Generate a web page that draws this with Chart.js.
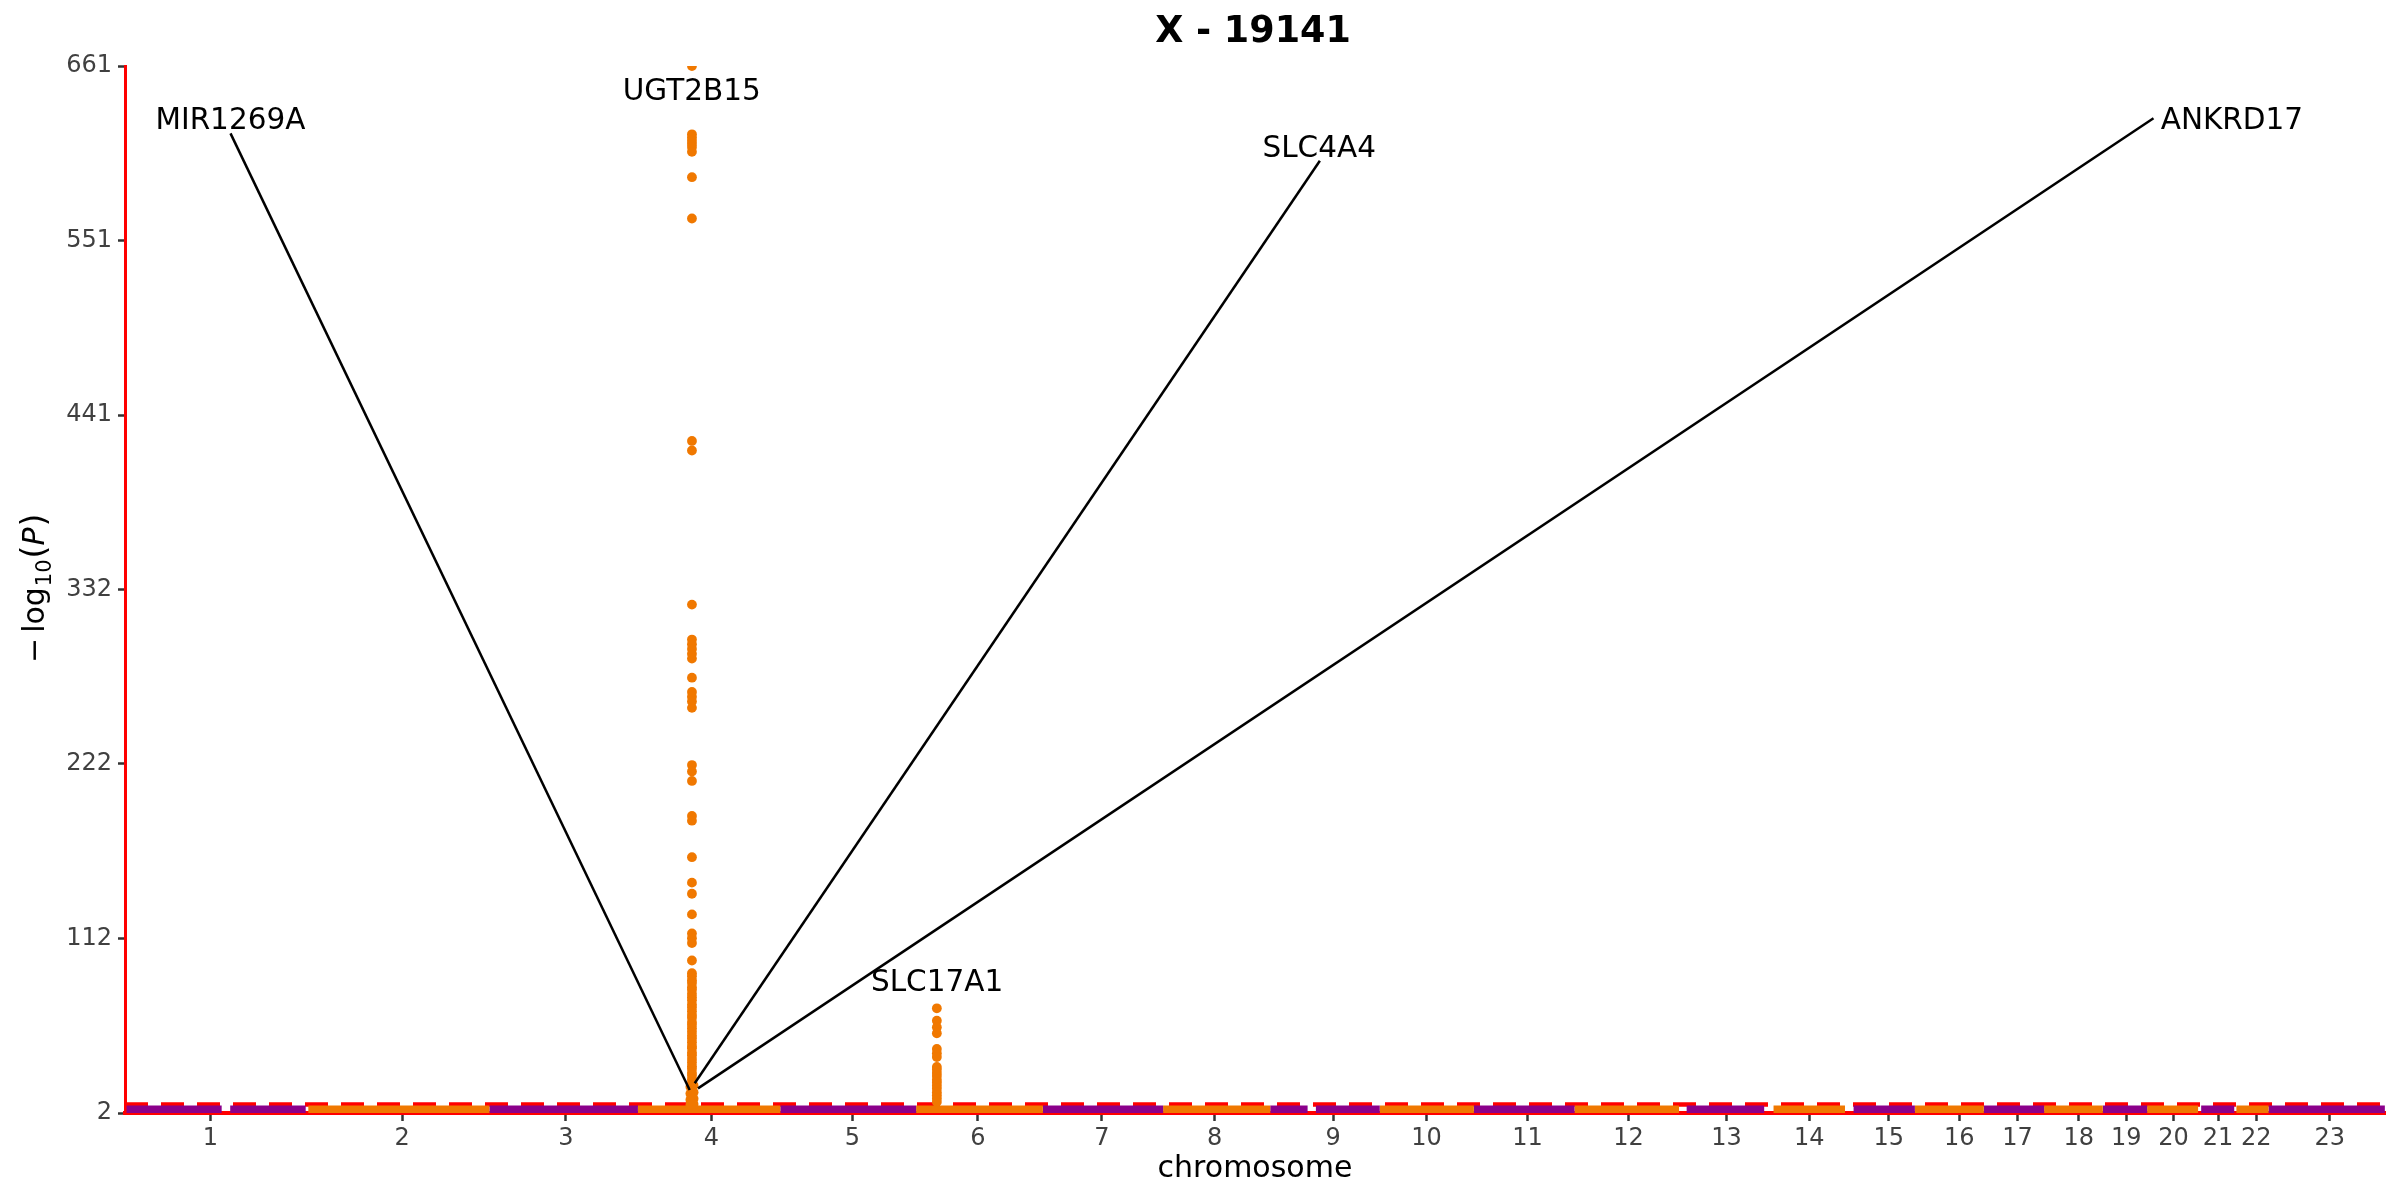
<!DOCTYPE html>
<html><head><meta charset="utf-8">
<script src="https://cdn.jsdelivr.net/npm/chart.js@4.4.0/dist/chart.umd.min.js"></script>
<style>html,body{margin:0;padding:0;background:#fff;}#wrap{width:2400px;height:1200px;}</style>
</head><body><div id="wrap"><canvas id="c" width="2400" height="1200"></canvas></div>
<script>
// ---------------- data ----------------
const chartTitle = 'X - 19141';
const xAxisTitle = 'chromosome';
const chromLabels = ['1','2','3','4','5','6','7','8','9','10','11','12','13','14','15','16','17','18','19','20','21','22','23'];
// chromosome tick centres (cumulative Mb)
const chromTickPos = [124.6, 381.0, 599.9, 794.3, 982.6, 1150.4, 1316.1, 1466.9, 1625.1, 1749.9, 1885.0, 2020.0, 2151.0, 2261.5, 2367.9, 2462.0, 2539.8, 2621.6, 2685.1, 2748.5, 2807.9, 2859.0, 2957.2];
const xRange = [10.6, 3031];
const yRange = [2, 661];
const yTickPos = [2, 111.83, 221.67, 331.5, 441.33, 551.17, 661];
const yTickLabels = ['2','112','222','332','441','551','661'];
// background SNP bands (cumulative Mb) per chromosome segment
const segStart = [12.7, 151.2, 255.6, 497.6, 696.1, 886.4, 1067.9, 1237.3, 1398.0, 1541.2, 1602.2, 1687.5, 1813.3, 1947.8, 2097.7, 2213.8, 2320.8, 2402.7, 2494.8, 2575.4, 2653.8, 2713.1, 2785.3, 2832.4, 2875.3];
const segEnd   = [139.8, 252.1, 497.6, 696.1, 886.4, 1067.9, 1237.3, 1398.0, 1541.2, 1591.1, 1687.5, 1813.3, 1947.8, 2087.5, 2201.3, 2309.3, 2402.7, 2494.8, 2575.4, 2653.8, 2713.1, 2781.2, 2829.5, 2875.3, 3030.8];
const segChrom = [1, 1, 2, 3, 4, 5, 6, 7, 8, 9, 9, 10, 11, 12, 13, 14, 15, 16, 17, 18, 19, 20, 21, 22, 23];
const bandLevel = 4.0;
const threshold = 7.3;
// chromosome 4 peak (UGT2B15 locus)
const peak4Pos = 768.3;
const peak4Values = [661, 618, 616, 614, 612, 610, 607, 591, 565, 425, 419, 322, 300, 297, 294, 291, 288, 276, 267, 264, 261, 257, 221, 217, 211, 189, 186, 163, 147, 140, 127, 115, 112, 109, 98, 90,
  88.1, 85.6, 83.9, 81.2, 79.5, 77.0, 74.8, 72.9, 70.3, 68.4, 66.1, 63.7, 61.9, 59.2, 57.6, 55.3, 53.1, 50.8, 48.9, 46.5, 44.2, 42.7, 40.1, 38.3, 36.0, 33.8, 31.5, 29.9, 27.4, 25.6, 23.2, 21.1, 19.4, 17.0, 15.3, 13.1, 11.2, 9.5, 8.0];
const peak4SidePos = [766.2, 770.5];
const peak4SideA = [18.5, 14.2, 10.4, 7.1];
const peak4SideB = [19.3, 15.1, 11.0, 7.6];
// chromosome 6 peak (SLC17A1 locus)
const peak6Pos = 1095.6;
const peak6Values = [67.9, 60.1, 56.0, 52.2, 42.3, 39.6, 37.2, 31.0, 29.2, 27.1, 25.3, 23.0, 21.2, 19.1, 17.3, 15.0, 13.2, 11.1, 9.0];
// annotations
const annoText  = ['MIR1269A', 'UGT2B15', 'SLC4A4', 'ANKRD17', 'SLC17A1'];
const annoX     = [151.5, 768.0, 1606.6, 2826.4, 1095.9];
const annoY     = [628.1, 646.2, 610.8, 628.1, 85.7];
const annoFromX = [151.6, null, 1607.5, 2721.6, null];
const annoFromY = [618.6, null, 601.4, 628.1, null];
const annoToX   = [765.3, null, 772.0, 776.4, null];
const annoToY   = [16.5, null, 20.7, 17.5, null];

const PURPLE = '#8B008B';
const ORANGE = '#F07800';
const chromColor = c => (c % 2 === 1 ? PURPLE : ORANGE);

// ---------------- datasets ----------------
const datasets = [];
datasets.push({
  type: 'line', label: 'threshold',
  data: [{x: xRange[0], y: threshold}, {x: xRange[1], y: threshold}],
  borderColor: '#FF0000', borderWidth: 4.5, borderDash: [23, 13],
  pointRadius: 0, order: 10, clip: 0
});
for (let i = 0; i < segStart.length; i++) {
  datasets.push({
    type: 'line', label: 'chr' + segChrom[i],
    data: [{x: segStart[i], y: bandLevel}, {x: segEnd[i], y: bandLevel}],
    borderColor: chromColor(segChrom[i]), borderWidth: 8.5, borderCapStyle: 'butt',
    pointRadius: 0, order: 5, clip: 0
  });
}
const peakPts = peak4Values.map(v => ({x: peak4Pos, y: v}))
  .concat(peak4SideA.map(v => ({x: peak4SidePos[0], y: v})))
  .concat(peak4SideB.map(v => ({x: peak4SidePos[1], y: v})))
  .concat(peak6Values.map(v => ({x: peak6Pos, y: v})));
datasets.push({
  type: 'scatter', label: 'peaks', data: peakPts,
  backgroundColor: ORANGE, borderWidth: 0, pointRadius: 4.9, order: 1, clip: 0
});

// ---------------- text plugin ----------------
const textPlugin = {
  id: 'texts',
  afterDraw(chart) {
    const {ctx, chartArea} = chart;
    const xs = chart.scales.x, ys = chart.scales.y;
    ctx.save();
    ctx.fillStyle = '#000';
    ctx.textAlign = 'center';
    ctx.textBaseline = 'alphabetic';
    ctx.font = 'bold 36.5px "DejaVu Sans"';
    ctx.fillText(chartTitle, (chartArea.left + chartArea.right) / 2 - 2, 41.7);
    ctx.font = '30px "DejaVu Sans"';
    ctx.fillText(xAxisTitle, (chartArea.left + chartArea.right) / 2, 1176.5);

    // y label: −log10(P)
    ctx.save();
    ctx.translate(44, 663);
    ctx.rotate(-Math.PI / 2);
    ctx.textAlign = 'left';
    let cx = 0;
    ctx.font = '30px "DejaVu Sans"';
    ctx.fillText('\u2212', cx, 0); cx += ctx.measureText('\u2212').width + 5;
    ctx.fillText('log', cx, 0); cx += ctx.measureText('log').width + 1;
    ctx.font = '21px "DejaVu Sans"';
    ctx.fillText('10', cx, 7); cx += ctx.measureText('10').width + 1;
    ctx.font = '33px "DejaVu Sans"';
    ctx.fillText('(', cx, 1); cx += ctx.measureText('(').width;
    ctx.font = 'italic 30px "DejaVu Sans"';
    ctx.fillText('P', cx, 0); cx += ctx.measureText('P').width + 1;
    ctx.font = '33px "DejaVu Sans"';
    ctx.fillText(')', cx, 1);
    ctx.restore();

    // annotation lines
    ctx.strokeStyle = '#000';
    ctx.lineWidth = 2.5;
    for (let i = 0; i < annoText.length; i++) {
      if (annoFromX[i] === null) continue;
      ctx.beginPath();
      ctx.moveTo(xs.getPixelForValue(annoFromX[i]), ys.getPixelForValue(annoFromY[i]));
      ctx.lineTo(xs.getPixelForValue(annoToX[i]), ys.getPixelForValue(annoToY[i]));
      ctx.stroke();
    }
    // annotation texts
    ctx.font = '29.5px "DejaVu Sans"';
    ctx.textAlign = 'center';
    ctx.textBaseline = 'alphabetic';
    for (let i = 0; i < annoText.length; i++) {
      ctx.fillText(annoText[i], xs.getPixelForValue(annoX[i]), ys.getPixelForValue(annoY[i]) + 29.5 * 0.365);
    }
    ctx.restore();
  }
};

Chart.defaults.font.family = '"DejaVu Sans"';
new Chart(document.getElementById('c'), {
  type: 'scatter',
  data: {datasets},
  options: {
    responsive: false, animation: false, devicePixelRatio: 1,
    layout: {padding: {top: 66, right: 15, bottom: 0, left: 0}},
    plugins: {legend: {display: false}, tooltip: {enabled: false}, title: {display: false}},
    scales: {
      x: {
        type: 'linear', min: xRange[0], max: xRange[1], z: 1,
        afterFit: s => { s.height = 87; },
        afterBuildTicks: s => { s.ticks = chromTickPos.map(v => ({value: v})); },
        ticks: {autoSkip: false, maxRotation: 0, minRotation: 0, padding: 3,
          callback: (v, i) => chromLabels[i], font: {size: 24}, color: '#404040'},
        grid: {display: true, drawOnChartArea: false, drawTicks: true, tickLength: 8, tickWidth: 2.5, tickColor: '#333'},
        border: {display: true, color: '#FF0000', width: 4}
      },
      y: {
        type: 'linear', min: yRange[0], max: yRange[1], z: 1,
        afterFit: s => { s.width = 125; },
        afterBuildTicks: s => { s.ticks = yTickPos.map(v => ({value: v})); },
        ticks: {autoSkip: false, padding: 6, callback: (v, i) => yTickLabels[i], font: {size: 24}, color: '#404040'},
        grid: {display: true, drawOnChartArea: false, drawTicks: true, tickLength: 7, tickWidth: 2.5, tickColor: '#333'},
        border: {display: true, color: '#FF0000', width: 3}
      }
    }
  },
  plugins: [textPlugin]
});
</script></body></html>
